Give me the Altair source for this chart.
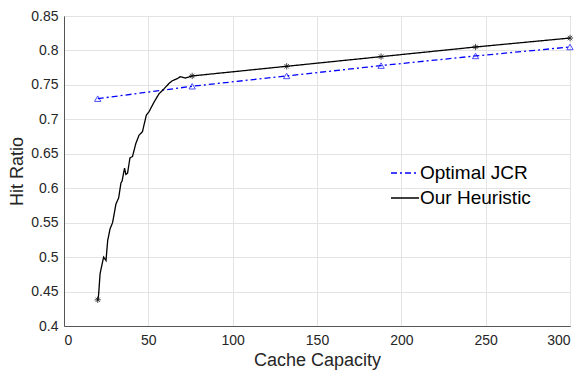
import altair as alt
import pandas as pd

# Our Heuristic: dense curve (capacity, hit ratio)
heur_x = [20, 20.5, 21.4, 22.6, 23.5, 24.9, 25.9, 27.3, 28.8, 30.8, 32.4, 33.8, 34.4, 35.9, 36.7, 37.7,
          39.1, 40.6, 42.6, 44.5, 46.5, 48.8, 50.4, 53.4, 56.3, 59.2, 62.2, 64.2, 67.1, 69, 72, 76,
          132, 188, 244, 300]
heur_y = [0.437, 0.445, 0.476, 0.490, 0.500, 0.495, 0.524, 0.541, 0.550, 0.577, 0.586, 0.608, 0.610, 0.629, 0.620, 0.622,
          0.644, 0.646, 0.665, 0.677, 0.682, 0.706, 0.711, 0.725, 0.737, 0.744, 0.752, 0.756, 0.759, 0.762, 0.760, 0.763,
          0.777, 0.791, 0.805, 0.818]
# Markers
heur_mx = [20, 76, 132, 188, 244, 300]
heur_my = [0.438, 0.763, 0.777, 0.791, 0.805, 0.818]
opt_x = [20, 76, 132, 188, 244, 300]
opt_y = [0.730, 0.748, 0.763, 0.778, 0.792, 0.805]

series = ["Optimal JCR", "Our Heuristic"]
x_ticks = [0, 50, 100, 150, 200, 250, 300]
y_ticks = [0.4, 0.45, 0.5, 0.55, 0.6, 0.65, 0.7, 0.75, 0.8, 0.85]

lines = pd.DataFrame(
    [{"series": series[0], "x": a, "y": b, "o": i} for i, (a, b) in enumerate(zip(opt_x, opt_y))]
    + [{"series": series[1], "x": a, "y": b, "o": i} for i, (a, b) in enumerate(zip(heur_x, heur_y))]
)
opt_pts = pd.DataFrame({"x": opt_x, "y": opt_y})
heur_pts = pd.DataFrame({"x": heur_mx, "y": heur_my})

FONT = "Liberation Sans"
xs = alt.Scale(domain=[0, 300], nice=False)
ys = alt.Scale(domain=[0.4, 0.85], nice=False, zero=False)

xax = alt.Axis(values=x_ticks, tickCount=20, title="Cache Capacity", grid=True, gridColor="#e3e3e3",
               labelFontSize=14, titleFontSize=18, labelFont=FONT, titleFont=FONT,
               labelColor="#262626", titleColor="#262626", titleFontWeight="normal",
               domainColor="#555555", tickColor="#555555", tickSize=0, labelPadding=7, titlePadding=4,
               labelOverlap=False)
yax = alt.Axis(values=y_ticks, tickCount=20, title="Hit Ratio", format=".2~f", grid=True, gridColor="#e3e3e3",
               labelFontSize=14, titleFontSize=18, labelFont=FONT, titleFont=FONT,
               labelColor="#262626", titleColor="#262626", titleFontWeight="normal",
               domainColor="#555555", tickColor="#555555", tickSize=0, labelPadding=6,
               titleX=-47, titleBaseline="middle",
               labelOverlap=False)

line = alt.Chart(lines).mark_line(strokeWidth=1.3).encode(
    x=alt.X("x:Q", scale=xs, axis=xax),
    y=alt.Y("y:Q", scale=ys, axis=yax),
    order="o:Q",
    color=alt.Color("series:N", scale=alt.Scale(domain=series, range=["#0000ff", "#000000"]),
                    legend=alt.Legend(title=None, orient="none", legendX=326, legendY=142,
                                      symbolType="stroke", symbolSize=784, symbolStrokeWidth=1.3,
                                      labelFontSize=19, labelFont=FONT, labelColor="#000000",
                                      rowPadding=-7, labelOffset=0)),
    strokeDash=alt.StrokeDash("series:N", scale=alt.Scale(domain=series, range=[[6, 3, 2, 3], [1, 0]]),
                              legend=None),
)

opt_m = alt.Chart(opt_pts).mark_point(shape="triangle-up", filled=False, color="#0000ff",
                                      size=40, strokeWidth=1).encode(
    x=alt.X("x:Q", scale=xs), y=alt.Y("y:Q", scale=ys))

star = "M-1,0L1,0M0,-1L0,1M-0.7,-0.7L0.7,0.7M-0.7,0.7L0.7,-0.7"
heur_m = alt.Chart(heur_pts).mark_point(shape=star, filled=False, color="#000000",
                                        size=40, strokeWidth=1).encode(
    x=alt.X("x:Q", scale=xs), y=alt.Y("y:Q", scale=ys))

chart = alt.layer(line, opt_m, heur_m).properties(
    width=506, height=310,
    autosize=alt.AutoSizeParams(type="none"),
    padding={"left": 56, "top": 8, "right": 9, "bottom": 44},
).configure_view(stroke="#555555", strokeWidth=1)

chart.save("out.html", embed_options={"renderer": "svg", "actions": False})
